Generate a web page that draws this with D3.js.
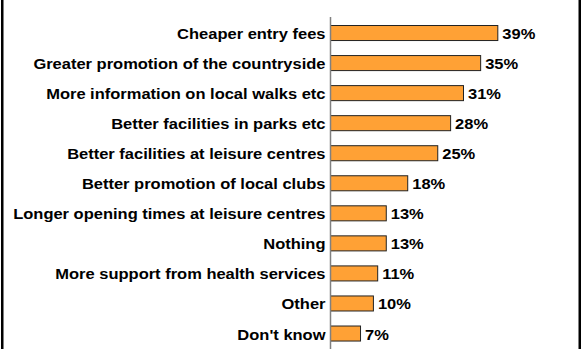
<!DOCTYPE html>
<html>
<head>
<meta charset="utf-8">
<script src="https://cdn.jsdelivr.net/npm/d3@7"></script>
<style>
  html, body { margin: 0; padding: 0; background: #fff; }
  svg { display: block; }
  text { font-family: "Liberation Sans", Arial, sans-serif; font-weight: bold; fill: #000; }
</style>
</head>
<body>
<script>
// Survey responses: what would encourage more activity
const categories = [
  "Cheaper entry fees",
  "Greater promotion of the countryside",
  "More information on local walks etc",
  "Better facilities in parks etc",
  "Better facilities at leisure centres",
  "Better promotion of local clubs",
  "Longer opening times at leisure centres",
  "Nothing",
  "More support from health services",
  "Other",
  "Don't know"
];
const values = [39, 35, 31, 28, 25, 18, 13, 13, 11, 10, 7];
const valueLabels = values.map(v => v + "%");

const W = 582, H = 349;
const svg = d3.select("body").append("svg").attr("width", W).attr("height", H);

// outer frame (top and bottom edges fall outside the view)
svg.append("rect")
  .attr("x", 2.25).attr("y", -6)
  .attr("width", W - 4.5).attr("height", H + 12)
  .attr("fill", "none").attr("stroke", "#000").attr("stroke-width", 2.5);

const axisX = 330.5;
const x = d3.scaleLinear().domain([0, 40]).range([axisX, axisX + 40 * 4.29]);
const y = d3.scaleBand().domain(categories)
  .range([17.5, 17.5 + 11 * 30.05])
  .paddingInner(0.5).paddingOuter(0.25);

const stretch = 1.1;
const fontSize = 15;
const baselineShift = 6.5;

// bars
svg.append("g").selectAll("rect")
  .data(values)
  .join("rect")
  .attr("x", x(0))
  .attr("y", (d, i) => y(categories[i]) + 0.5)
  .attr("width", d => x(d) - x(0))
  .attr("height", y.bandwidth())
  .attr("fill", "#ffa135")
  .attr("stroke", "#222")
  .attr("stroke-width", 1);

// category axis line
svg.append("line")
  .attr("x1", axisX).attr("x2", axisX)
  .attr("y1", 17).attr("y2", H)
  .attr("stroke", "#808080").attr("stroke-width", 1.5);

// category labels
svg.append("g").selectAll("text")
  .data(categories)
  .join("text")
  .attr("text-anchor", "end")
  .attr("font-size", fontSize)
  .attr("transform", d => `translate(${axisX - 5},${y(d) + y.bandwidth() / 2 + baselineShift}) scale(${stretch},1)`)
  .text(d => d);

// value labels
svg.append("g").selectAll("text")
  .data(values)
  .join("text")
  .attr("text-anchor", "start")
  .attr("font-size", fontSize)
  .attr("transform", (d, i) => `translate(${x(d) + 4.5},${y(categories[i]) + y.bandwidth() / 2 + baselineShift}) scale(${stretch},1)`)
  .text((d, i) => valueLabels[i]);
</script>
</body>
</html>
